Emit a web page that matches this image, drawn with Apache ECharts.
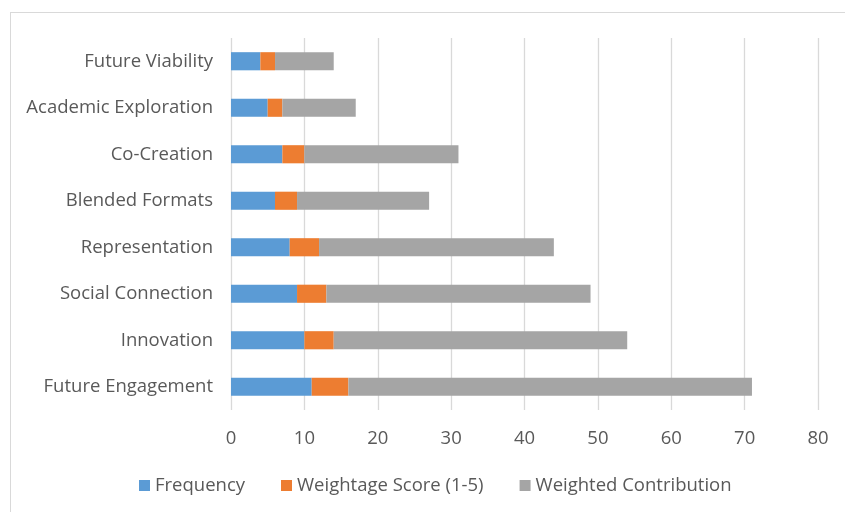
<!DOCTYPE html>
<html><head><meta charset="utf-8">
<script src="https://cdn.jsdelivr.net/npm/echarts@6/dist/echarts.min.js"></script>
<style>
html,body{margin:0;padding:0;background:#fff;width:845px;height:512px;overflow:hidden;}
#frame{position:absolute;left:10px;top:12px;width:900px;height:600px;border:1px solid #d9d9d9;box-sizing:border-box;}
#c{position:absolute;left:0;top:0;width:845px;height:512px;}
</style></head>
<body><div id="frame"></div><div id="c"></div>
<script>
const categories = ["Future Engagement","Innovation","Social Connection","Representation","Blended Formats","Co-Creation","Academic Exploration","Future Viability"];
const frequency = [11,10,9,8,6,7,5,4];
const weightage = [5,4,4,4,3,3,2,2];
const weighted = [55,40,36,32,18,21,10,8];
const seriesNames = ["Frequency","Weightage Score (1-5)","Weighted Contribution"];
const colors = ["#5B9BD5","#ED7D31","#A5A5A5"];
const font = "'Open Sans', 'Noto Sans', sans-serif";
const chart = echarts.init(document.getElementById('c'));
const mk = (name, data, color) => ({name, type:'bar', stack:'s', data, barWidth:'39%', itemStyle:{color}, emphasis:{disabled:true}});
chart.setOption({
  animation:false,
  textStyle:{fontFamily:font},
  grid:{left:231, right:27, top:38, bottom:102, containLabel:false},
  legend:{bottom:12, left:134, itemWidth:11, itemHeight:11, itemGap:36, icon:'rect',
    textStyle:{fontSize:18.5, color:'#595959', fontFamily:font, padding:[0,0,0,0]}, data:seriesNames},
  xAxis:{type:'value', min:0, max:80, interval:10,
    axisLine:{show:false}, axisTick:{show:false},
    splitLine:{lineStyle:{color:'#d9d9d9', width:1.3}},
    axisLabel:{fontSize:18.5, color:'#595959', margin:19, fontFamily:font}},
  yAxis:{type:'category', data:categories,
    axisLine:{show:false}, axisTick:{show:false},
    axisLabel:{fontSize:18.5, color:'#595959', margin:18, fontFamily:font}},
  series:[mk(seriesNames[0],frequency,colors[0]), mk(seriesNames[1],weightage,colors[1]), mk(seriesNames[2],weighted,colors[2])]
});
</script></body></html>
